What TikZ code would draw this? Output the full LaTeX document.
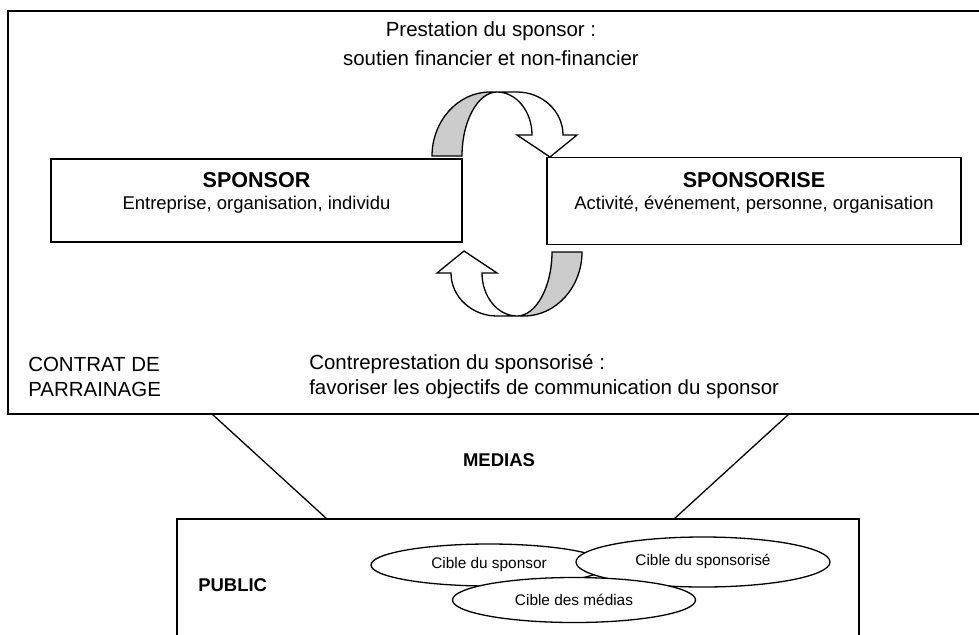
\documentclass[tikz,border=0pt]{standalone}
\usepackage{fontspec}
\setmainfont{Liberation Sans}
\usetikzlibrary{shapes.geometric}

% ruban flechee (coordonnees relatives au centre des deux fleches)
\newcommand{\ruban}{%
  \fill[gray!40] (-75,-48) .. controls (-75,-83) and (-49,-112) .. (-17,-112)
    -- (-10,-112) .. controls (-29,-112) and (-45,-83) .. (-45,-48) -- cycle;
  \draw[trait] (-75,-48) .. controls (-75,-83) and (-49,-112) .. (-17,-112)
    -- (10,-112) .. controls (35,-112) and (56,-93) .. (56,-69)
    -- (70,-69) -- (43,-47) -- (10,-69) -- (25,-69)
    .. controls (25,-93) and (9,-112) .. (-10,-112)
    .. controls (-29,-112) and (-45,-83) .. (-45,-48) -- cycle;
}

\begin{document}
\begin{tikzpicture}[x=0.65pt,y=-0.65pt,
    trait/.style={line width=0.85pt,line join=miter},
    boite/.style={draw,trait,inner sep=0pt,outer sep=0pt},
    cible/.style={ellipse,draw,trait,fill=white,inner sep=0pt,font=\fontsize{10}{12}\selectfont},
    texte/.style={font=\fontsize{12}{14}\selectfont,inner sep=0pt},
    libre/.style={font=\fontsize{13.3}{15}\selectfont,inner sep=0pt},
    titre/.style={font=\fontsize{14}{16}\selectfont\bfseries,inner sep=0pt},
    gras/.style={font=\fontsize{12}{14}\selectfont\bfseries,inner sep=0pt}]
    \def\px{0.65pt}
    \useasboundingbox (0,0) rectangle (979,634);
    \fill[white] (0,0) rectangle (979,634);
    \clip (0,0) rectangle (979,634);

    % Contrat
    \draw[line width=1.3pt] (990,11) -- (8,11) -- (8,414) -- (990,414);

    \node[libre] (prestation) at (491,31) {Prestation du sponsor :};
    \node[libre] (soutien) at (491,58) {soutien financier et non-financier};

    % Sponsor
    \node[boite,minimum width=411*\px,minimum height=83*\px] (sponsor) at (256.5,200.5) {};
    \node[titre] (sponsorT) at (256.5,180) {SPONSOR};
    \node[texte] (sponsorS) at (256.5,205) {Entreprise, organisation, individu};

    % Sponsorise
    \node[boite,minimum width=414*\px,minimum height=87*\px] (sponsorise) at (754,201) {};
    \node[titre] (sponsoriseT) at (754,180) {SPONSORISE};
    \node[texte] (sponsoriseS) at (754,205) {Activité, événement, personne, organisation};

    % Fleches
    \begin{scope}[shift={(507,204)}]
      \ruban
    \end{scope}
    \begin{scope}[shift={(507,204)},rotate=180]
      \ruban
    \end{scope}

    \node[libre,anchor=west] (contrat) at (28,364) {CONTRAT DE};
    \node[libre,anchor=west] (parrainage) at (28,389) {PARRAINAGE};
    \node[libre,anchor=west] (contre) at (309,364) {Contreprestation du sponsorisé :};
    \node[libre,anchor=west] (favoriser) at (309,389) {favoriser les objectifs de communication du sponsor};

    % Medias
    \coordinate (mg) at (212,414);
    \coordinate (md) at (789,414);
    \coordinate (pg) at (327,519);
    \coordinate (pd) at (674,519);
    \draw[trait] (mg) -- (pg);
    \draw[trait] (md) -- (pd);
    \node[gras] (medias) at (499,460) {MEDIAS};

    % Public
    \draw[trait] (177,645) -- (177,519) -- (859,519) -- (859,645);
    \node[gras,anchor=west] (public) at (198,585) {PUBLIC};
    \node[cible,minimum width=236*\px,minimum height=42*\px] (cSponsor) at (489,565) {Cible du sponsor};
    \node[cible,minimum width=254*\px,minimum height=50*\px] (cSponsorise) at (703,562) {\raisebox{3pt}{Cible du sponsorisé}};
    \node[cible,minimum width=243*\px,minimum height=45*\px] (cMedias) at (574,600) {Cible des médias};
\end{tikzpicture}
\end{document}
